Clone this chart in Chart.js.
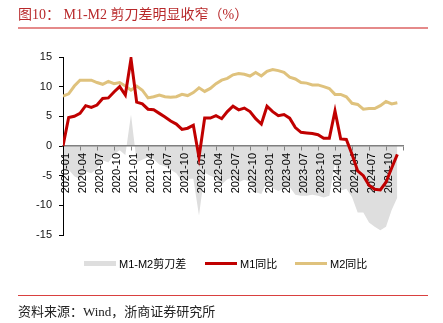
<!DOCTYPE html>
<html>
<head>
<meta charset="utf-8">
<script src="https://cdn.jsdelivr.net/npm/chart.js@4.4.1/dist/chart.umd.min.js"></script>
<style>
  body { margin: 0; background: #fff; }
  #wrap { position: relative; width: 443px; height: 323px; overflow: hidden; background: #fff; }
  #chart { position: absolute; left: 0; top: 0; }
  #title { position: absolute; left: 18px; top: 5px; height: 20px; line-height: 20px; white-space: nowrap;
           font-family: "Liberation Serif", "Noto Sans CJK SC", serif; font-size: 14px; color: #b8292b; }
  #tline { position: absolute; left: 18px; top: 27px; width: 410px; height: 2px; background: #e58a8a; }
  #fline { position: absolute; left: 18px; top: 295px; width: 410px; height: 1px; background: #d9403f; }
  #src { position: absolute; left: 18px; top: 303px; line-height: 17px; white-space: nowrap;
         font-family: "Liberation Serif", "Noto Sans CJK SC", serif; font-size: 13px; color: #222; }
  .lg { position: absolute; top: 255px; height: 16px; display: flex; align-items: center; white-space: nowrap;
        font-family: "Liberation Sans", "Noto Sans CJK SC", sans-serif; font-size: 11px; color: #000; }
  .sw { width: 32px; margin-right: 3px; }
</style>
</head>
<body>
<div id="wrap">
  <canvas id="chart" width="443" height="323"></canvas>
  <div id="title">图10：&nbsp;M1-M2 剪刀差明显收窄（%）</div>
  <div id="tline"></div>
  <div id="legend"></div>
  <div id="fline"></div>
  <div id="src">资料来源：Wind，浙商证券研究所</div>
</div>
<script>
// ---- data ----
const months = [
  '2020-01','2020-02','2020-03','2020-04','2020-05','2020-06','2020-07','2020-08','2020-09','2020-10','2020-11','2020-12',
  '2021-01','2021-02','2021-03','2021-04','2021-05','2021-06','2021-07','2021-08','2021-09','2021-10','2021-11','2021-12',
  '2022-01','2022-02','2022-03','2022-04','2022-05','2022-06','2022-07','2022-08','2022-09','2022-10','2022-11','2022-12',
  '2023-01','2023-02','2023-03','2023-04','2023-05','2023-06','2023-07','2023-08','2023-09','2023-10','2023-11','2023-12',
  '2024-01','2024-02','2024-03','2024-04','2024-05','2024-06','2024-07','2024-08','2024-09','2024-10','2024-11','2024-12'
];
const m1 = [
  0.0, 4.8, 5.0, 5.5, 6.8, 6.5, 6.9, 8.0, 8.1, 9.1, 10.0, 8.6,
  14.7, 7.4, 7.1, 6.2, 6.1, 5.5, 4.9, 4.2, 3.7, 2.8, 3.0, 3.5,
  -1.9, 4.7, 4.7, 5.1, 4.6, 5.8, 6.7, 6.1, 6.4, 5.8, 4.6, 3.7,
  6.7, 5.8, 5.1, 5.3, 4.7, 3.1, 2.3, 2.2, 2.1, 1.9, 1.3, 1.3,
  5.9, 1.2, 1.1, -1.4, -4.2, -5.0, -6.6, -7.3, -7.4, -6.1, -3.7, -1.4
];
const m2 = [
  8.4, 8.8, 10.1, 11.1, 11.1, 11.1, 10.7, 10.4, 10.9, 10.5, 10.7, 10.1,
  9.4, 10.1, 9.4, 8.1, 8.3, 8.6, 8.3, 8.2, 8.3, 8.7, 8.5, 9.0,
  9.8, 9.2, 9.7, 10.5, 11.1, 11.4, 12.0, 12.2, 12.1, 11.8, 12.4, 11.8,
  12.6, 12.9, 12.7, 12.4, 11.6, 11.3, 10.7, 10.6, 10.3, 10.3, 10.0, 9.7,
  8.7, 8.7, 8.3, 7.2, 7.0, 6.2, 6.3, 6.3, 6.8, 7.5, 7.1, 7.3
];
const spread = [
  -4.0, -4.0, -5.1, -5.6, -4.3, -4.6, -3.8, -2.4, -2.8, -1.4, -0.7, -1.5,
  5.3, -2.7, -2.3, -1.9, -2.2, -3.1, -3.4, -4.0, -4.6, -5.9, -5.5, -5.5,
  -11.7, -4.5, -5.0, -5.4, -6.5, -5.6, -5.3, -6.1, -5.7, -6.0, -7.8, -8.1,
  -5.9, -7.1, -7.6, -7.1, -6.9, -8.2, -8.4, -8.4, -8.2, -8.4, -8.7, -8.4,
  -2.8, -7.5, -7.2, -8.6, -11.2, -11.2, -12.9, -13.6, -14.2, -13.6, -10.8, -8.7
];
const seriesNames = ['M1-M2剪刀差', 'M1同比', 'M2同比'];
const yTicks = [-15, -10, -5, 0, 5, 10, 15];

const colors = { spread: '#dedede', m1: '#c00000', m2: '#dfc27d' };
const FONT = '"Liberation Sans", Arial, sans-serif';

const pts = arr => arr.map((v, i) => ({ x: i, y: v }));

new Chart(document.getElementById('chart'), {
  type: 'line',
  data: {
    datasets: [
      { label: seriesNames[1], data: pts(m1), borderColor: colors.m1, borderWidth: 3, pointRadius: 0, tension: 0, fill: false, order: 1 },
      { label: seriesNames[2], data: pts(m2), borderColor: colors.m2, borderWidth: 3, pointRadius: 0, tension: 0, fill: false, order: 2 },
      { label: seriesNames[0], data: pts(spread), borderColor: 'rgba(0,0,0,0)', backgroundColor: colors.spread, borderWidth: 0, pointRadius: 0, tension: 0, fill: 'origin', order: 3 }
    ]
  },
  options: {
    responsive: false,
    animation: false,
    layout: { padding: { left: 0, right: 40, top: 57, bottom: 88 } },
    plugins: {
      legend: { display: false },
      tooltip: { enabled: false },
      filler: { drawTime: 'beforeDraw' }
    },
    scales: {
      x: {
        type: 'linear',
        position: { y: 0 },
        min: 0,
        max: 60,
        grid: { drawOnChartArea: false, drawTicks: true, tickLength: 4, color: '#808080' },
        border: { display: true, color: '#808080', width: 1.5 },
        ticks: {
          stepSize: 3, autoSkip: false, maxRotation: 90, minRotation: 90,
          padding: 3, labelOffset: 3, color: '#000',
          font: { size: 11, family: FONT },
          callback: v => (months[v] !== undefined ? months[v] : '')
        }
      },
      y: {
        min: -15,
        max: 15,
        afterFit: s => { s.width = 63; },
        afterBuildTicks: s => { s.ticks = yTicks.map(v => ({ value: v })); },
        grid: { drawOnChartArea: false, drawTicks: true, tickLength: 4, color: '#000' },
        border: { display: true, color: '#000', width: 1 },
        ticks: { padding: 7, color: '#111', font: { size: 11, family: FONT } }
      }
    }
  }
});

// legend (HTML, built from the series names)
const legendDefs = [
  { name: seriesNames[0], color: colors.spread, h: 5, left: 84 },
  { name: seriesNames[1], color: colors.m1, h: 3, left: 205 },
  { name: seriesNames[2], color: colors.m2, h: 3, left: 295 }
];
const lg = document.getElementById('legend');
legendDefs.forEach(d => {
  const item = document.createElement('div');
  item.className = 'lg';
  item.style.left = d.left + 'px';
  const sw = document.createElement('div');
  sw.className = 'sw';
  sw.style.height = d.h + 'px';
  sw.style.background = d.color;
  const tx = document.createElement('span');
  tx.textContent = d.name;
  item.appendChild(sw);
  item.appendChild(tx);
  lg.appendChild(item);
});
</script>
</body>
</html>
